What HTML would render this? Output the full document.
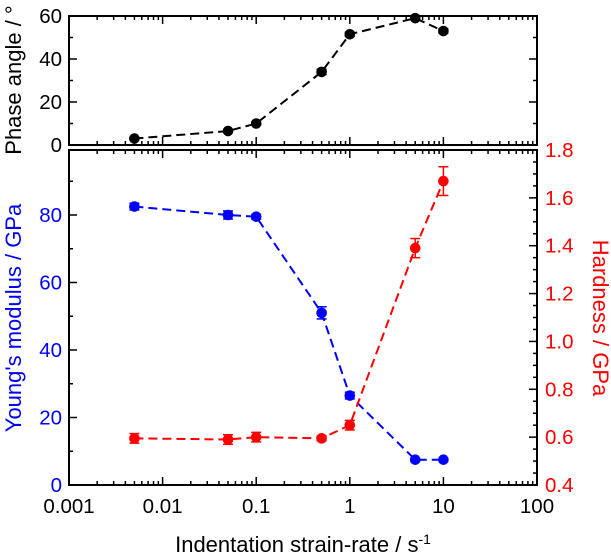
<!DOCTYPE html>
<html><head><meta charset="utf-8"><style>
html,body{margin:0;padding:0;background:#fff;}
svg{display:block;font-family:"Liberation Sans",Arial,sans-serif;}
</style></head><body>
<svg id="chart" width="611" height="558" viewBox="0 0 611 558"></svg>
<script>
const rates=[0.005,0.05,0.1,0.5,1,5,10];
const phase=[3,6.5,10,34,51.5,59,53];
const phaseErr=[0.5,0.5,0.6,1.2,1,0.5,1];
const modulus=[82.5,80,79.5,51,26.5,7.5,7.5];
const modulusErr=[1,1.2,0.7,1.8,1,0.4,0.4];
const hardness=[0.595,0.59,0.6,0.595,0.65,1.39,1.67];
const hardnessErr=[0.02,0.02,0.02,0.01,0.02,0.04,0.06];
const xTicks=[0.001,0.01,0.1,1,10,100];
const xTickLabels=["0.001","0.01","0.1","1","10","100"];
const phaseTicks=[0,20,40,60];
const modTicks=[0,20,40,60,80];
const hardTicks=[0.4,0.6,0.8,1.0,1.2,1.4,1.6,1.8];
const hardTickLabels=["0.4","0.6","0.8","1.0","1.2","1.4","1.6","1.8"];

const svg=document.getElementById('chart');
const NS='http://www.w3.org/2000/svg';
function el(tag,attrs,parent){const e=document.createElementNS(NS,tag);for(const k in attrs)e.setAttribute(k,attrs[k]);(parent||svg).appendChild(e);return e;}
const X0=69,X1=537;
const x=v=>X0+(Math.log10(v)+3)/5*(X1-X0);
const T0=145,T1=16; const yP=v=>T0+(T1-T0)*v/60;
const B0=485,B1=150; const yM=v=>B0-(B0-B1)*v/99.26; const yH=v=>B0-(B0-B1)*(v-0.4)/1.4;
const FS=20.5;

function frame(top,bot,name){
  const r=el('rect',{x:X0,y:top,width:X1-X0,height:bot-top,fill:'none',stroke:'#000','stroke-width':2});
  
  for(let d=-3;d<2;d++){for(let m=1;m<=10;m++){const v=m*Math.pow(10,d);const xx=x(v);const L=m===10||m===1?8:4;
    if(m===1&&d>-3)continue;
    el('line',{x1:xx,y1:bot,x2:xx,y2:bot-L,stroke:'#000','stroke-width':1.5});
    el('line',{x1:xx,y1:top,x2:xx,y2:top+L,stroke:'#000','stroke-width':1.5});}}
}
frame(T1,T0,'top-plot-frame');
frame(B1,B0,'bottom-plot-frame');

for(let v=0;v<=60;v+=10){const yy=yP(v);const L=v%20===0?8:4;
  el('line',{x1:X0,y1:yy,x2:X0+L,y2:yy,stroke:'#000','stroke-width':1.5});
  el('line',{x1:X1,y1:yy,x2:X1-L,y2:yy,stroke:'#000','stroke-width':1.5});}
phaseTicks.forEach(v=>{const t=el('text',{x:X0-7,y:yP(v)+7,'text-anchor':'end','font-size':FS,fill:'#000'});t.textContent=v;
  });
for(let v=0;v<=90;v+=10){const yy=yM(v);const L=v%20===0?8:4;el('line',{x1:X0,y1:yy,x2:X0+L,y2:yy,stroke:'#000','stroke-width':1.5});}
modTicks.forEach(v=>{const t=el('text',{x:X0-7,y:yM(v)+7,'text-anchor':'end','font-size':FS,fill:'#0000ff'});t.textContent=v;
  });
for(let i=0;i<=28;i++){const v=0.4+i*0.05;const yy=yH(v);const L=i%4===0?8:4;el('line',{x1:X1,y1:yy,x2:X1-L,y2:yy,stroke:'#000','stroke-width':1.5});}
hardTicks.forEach((v,i)=>{const t=el('text',{x:X1+8,y:yH(v)+7,'text-anchor':'start','font-size':FS,fill:'#ff0000'});t.textContent=hardTickLabels[i];
  });
xTicks.forEach((v,i)=>{const t=el('text',{x:x(v),y:513,'text-anchor':'middle','font-size':FS,fill:'#000'});t.textContent=xTickLabels[i];
  });

function series(vals,errs,yf,color,name){
  const pts=rates.map((r,i)=>x(r)+','+yf(vals[i])).join(' ');
  const pl=el('polyline',{points:pts,fill:'none',stroke:color,'stroke-width':2,'stroke-dasharray':'9,5'});
  
  rates.forEach((r,i)=>{const xx=x(r),y1=yf(vals[i]+errs[i]),y2=yf(vals[i]-errs[i]);
    el('line',{x1:xx,y1:y1,x2:xx,y2:y2,stroke:color,'stroke-width':1.5});
    el('line',{x1:xx-5,y1:y1,x2:xx+5,y2:y1,stroke:color,'stroke-width':1.5});
    el('line',{x1:xx-5,y1:y2,x2:xx+5,y2:y2,stroke:color,'stroke-width':1.5});
    const c=el('circle',{cx:xx,cy:yf(vals[i]),r:5.3,fill:color});
    });
}
series(phase,phaseErr,yP,'#000','phase');
series(modulus,modulusErr,yM,'#0000ff','modulus');
series(hardness,hardnessErr,yH,'#ff0000','hardness');
</script>
<svg style="position:absolute;left:0;top:0" width="611" height="558">
<text transform="translate(21,80) rotate(-90)" text-anchor="middle" font-size="22" font-family="Liberation Sans,Arial,sans-serif">Phase angle / °</text>
<text transform="translate(21,318) rotate(-90)" text-anchor="middle" font-size="22" fill="#0000ff" font-family="Liberation Sans,Arial,sans-serif">Young's modulus / GPa</text>
<text transform="translate(593,318) rotate(90)" text-anchor="middle" font-size="22" fill="#ff0000" font-family="Liberation Sans,Arial,sans-serif">Hardness / GPa</text>
<text x="303" y="552" text-anchor="middle" font-size="22" font-family="Liberation Sans,Arial,sans-serif">Indentation strain-rate / s<tspan dy="-8" font-size="14">-1</tspan></text>
</svg>
</body></html>
